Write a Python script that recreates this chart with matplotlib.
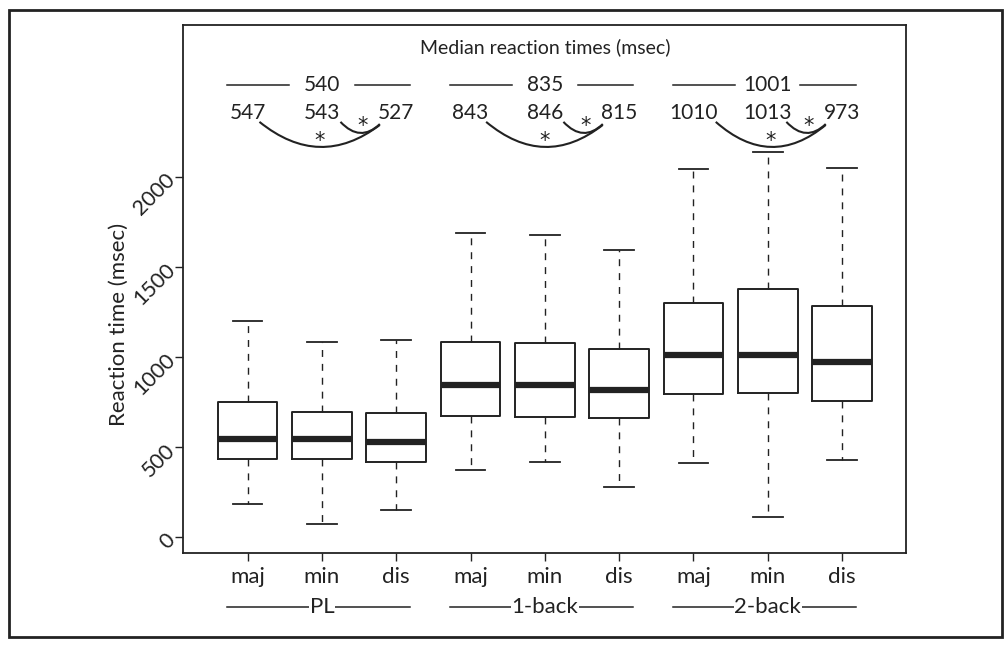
import numpy as np
import matplotlib.pyplot as plt
from matplotlib.patches import Rectangle, PathPatch
from matplotlib.path import Path

plt.rcParams['font.family'] = ['Lato', 'DejaVu Sans']

groups = ['PL', '1-back', '2-back']
conditions = ['maj', 'min', 'dis']

# box statistics (msec), order: PL, 1-back, 2-back x maj, min, dis
whisker_hi = [1200, 1083, 1094, 1690, 1680, 1594, 2044, 2139, 2048]
q3 = [750, 694, 689, 1085, 1076, 1043, 1298, 1378, 1285]
medians = [547, 543, 527, 843, 846, 815, 1010, 1013, 973]
q1 = [433, 433, 417, 672, 668, 659, 793, 798, 757]
whisker_lo = [183, 72, 150, 372, 418, 280, 409, 113, 428]

group_medians = [540, 835, 1001]

stats = []
for i in range(9):
    stats.append(dict(med=medians[i], q1=q1[i], q3=q3[i],
                      whislo=whisker_lo[i], whishi=whisker_hi[i], fliers=[]))

fig = plt.figure(figsize=(10.05, 6.45), dpi=100)
ax = fig.add_axes([0.182, 0.1426, 0.7195, 0.8186])

ink = '#222222'
positions = np.arange(1, 10)
ax.bxp(stats, positions=positions, widths=0.8, showfliers=False, manage_ticks=False,
       boxprops=dict(color=ink, linewidth=1.4),
       medianprops=dict(color=ink, linewidth=4.5, solid_capstyle='butt'),
       whiskerprops=dict(color=ink, linewidth=1.0, linestyle=(0, (5, 5))),
       capprops=dict(color=ink, linewidth=1.3), capwidths=0.4)

ax.set_xlim(0.13, 9.86)
ax.set_ylim(-89, 2844)

ax.set_xticks(positions)
ax.set_xticklabels(conditions * 3, fontsize=16)
ax.set_yticks([0, 500, 1000, 1500, 2000])
ax.set_yticklabels(['0', '500', '1000', '1500', '2000'], fontsize=15.5,
                   rotation=45, ha='right', va='center', rotation_mode='anchor')
ax.tick_params(axis='both', direction='out', length=6, width=1, color=ink, labelcolor=ink)
ax.tick_params(axis='x', pad=4)
ax.tick_params(axis='y', pad=2)
for s in ax.spines.values():
    s.set_linewidth(1.3)
    s.set_color(ink)

ax.set_ylabel('Reaction time (msec)', fontsize=16, color=ink)
ax.yaxis.set_label_coords(-0.075, 0.432)

# annotations above the boxes
ax.text(5.0, 2722, 'Median reaction times (msec)', ha='center', va='center', fontsize=14, color=ink)

star_font = ['DejaVu Sans']
for g in range(3):
    c = 3 * g + 2
    ax.plot([c - 1.27, c - 0.44], [2511, 2511], color=ink, lw=1.1)
    ax.plot([c + 0.44, c + 1.19], [2511, 2511], color=ink, lw=1.1)
    ax.text(c, 2511, str(group_medians[g]), ha='center', va='center', fontsize=15, color=ink)
    for k in range(3):
        ax.text(c - 1 + k, 2356, str(medians[3 * g + k]), ha='center', va='center',
                fontsize=15, color=ink)

    off = [0.16, 0.21, 0.3][g]
    # long arc maj -> dis
    x0, x1 = c - 1 + off, c + 1 - 0.22
    verts = [(x0, 2306), ((x0 + x1) / 2, 2036), (x1, 2289)]
    ax.add_patch(PathPatch(Path(verts, [Path.MOVETO, Path.CURVE3, Path.CURVE3]),
                           fill=False, color=ink, lw=1.5))
    ax.text((x0 + x1) / 2, 2200, '*', ha='center', va='center', fontsize=15,
            family=star_font, color=ink)
    # short arc min -> dis
    x0s = c + 0.25
    verts = [(x0s, 2306), ((x0s + x1) / 2, 2189), (x1, 2294)]
    ax.add_patch(PathPatch(Path(verts, [Path.MOVETO, Path.CURVE3, Path.CURVE3]),
                           fill=False, color=ink, lw=1.5))
    ax.text((x0s + x1) / 2 + 0.03, 2285, '*', ha='center', va='center', fontsize=15,
            family=star_font, color=ink)

    # group label under the axis
    ax.plot([c - 1.27, c + 1.19], [-389, -389], color=ink, lw=1.1, clip_on=False)
    ax.text(c, -389, groups[g], ha='center', va='center', fontsize=16, color=ink,
            clip_on=False, bbox=dict(facecolor='white', edgecolor='none', pad=0.5))

# outer frame
fig.patches.append(Rectangle((0.009, 0.0124), 0.988, 0.972, transform=fig.transFigure,
                             fill=False, edgecolor=ink, linewidth=2.0))

fig.savefig('out.png', dpi=100)
